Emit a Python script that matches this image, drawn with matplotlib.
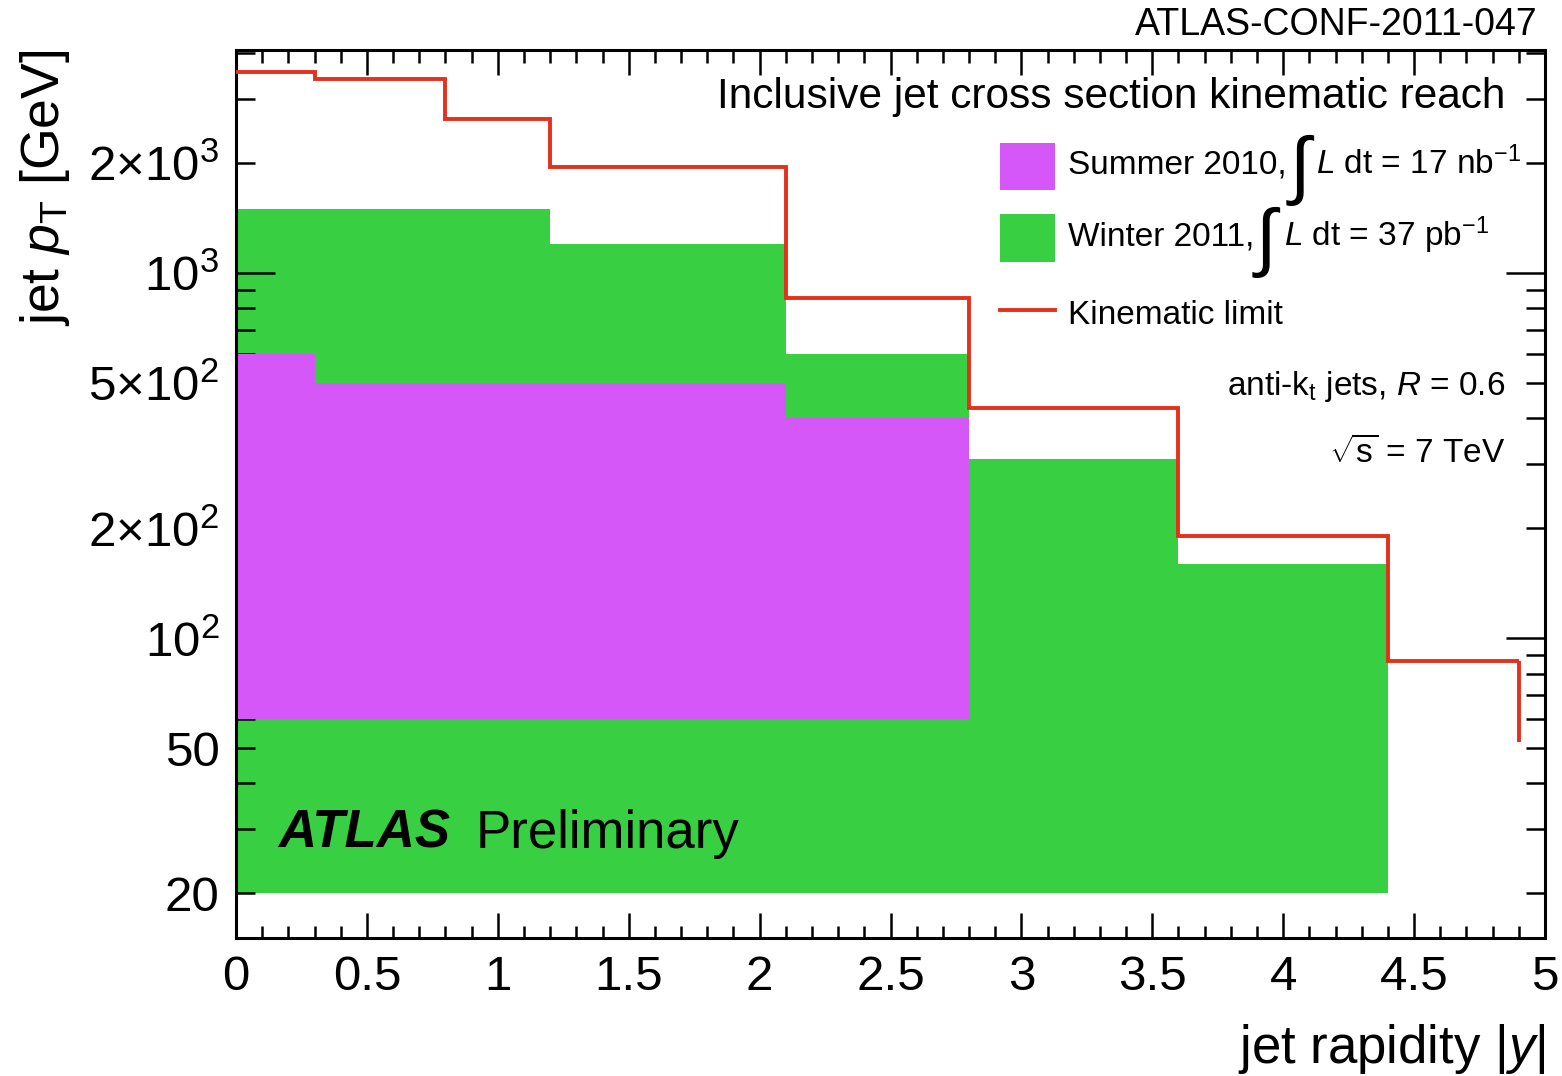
import numpy as np
import matplotlib
matplotlib.use("Agg")
import matplotlib.pyplot as plt
from matplotlib.patches import Rectangle
from matplotlib.lines import Line2D
from matplotlib.ticker import FixedLocator, FuncFormatter

plt.rcParams["font.family"] = ["Liberation Sans", "DejaVu Sans"]
plt.rcParams["mathtext.fontset"] = "custom"
plt.rcParams["mathtext.rm"] = "Liberation Sans"
plt.rcParams["mathtext.it"] = "Liberation Sans:italic"
plt.rcParams["mathtext.bf"] = "Liberation Sans:bold"

# rapidity bins and reach (GeV)
winter_edges = [0.0, 1.2, 2.1, 2.8, 3.6, 4.4]
winter_pt = [1500, 1200, 600, 310, 160]
winter_min = 20

summer_edges = [0.0, 0.3, 2.1, 2.8]
summer_pt = [600, 500, 400]
summer_min = 60

kin_edges = [0.0, 0.3, 0.8, 1.2, 2.1, 2.8, 3.6, 4.4, 4.9]
kin_pt = [3560, 3400, 2640, 1950, 855, 427, 191, 86.5]
kin_end = 52

MAGENTA = "#d557f7"
GREEN = "#38cf42"
RED = "#e4301c"

W, H = 1562, 1076
fig = plt.figure(figsize=(W / 100, H / 100), dpi=100)
ax = fig.add_axes([236 / W, 1 - 938 / H, (1545 - 236) / W, (938 - 50) / H])


def fxy(px, py):
    return px / W, 1 - py / H


ax.stairs(winter_pt, winter_edges, baseline=winter_min, fill=True,
          color=GREEN, linewidth=0, zorder=1)
ax.stairs(summer_pt, summer_edges, baseline=summer_min, fill=True,
          color=MAGENTA, linewidth=0, zorder=2)
ax.stairs(kin_pt, kin_edges, baseline=None, color=RED, linewidth=2.8, zorder=3)
ax.vlines(kin_edges[-1], kin_end, kin_pt[-1], color=RED, linewidth=2.8, zorder=3)

ax.set_yscale("log")
ax.set_xlim(0, 5)
ax.set_ylim(15.1, 4080)

# x ticks
ax.xaxis.set_major_locator(FixedLocator(np.arange(0, 5.01, 0.5)))
ax.xaxis.set_minor_locator(FixedLocator(np.arange(0, 5.01, 0.1)))
ax.xaxis.set_major_formatter(FuncFormatter(lambda v, p: f"{v:g}"))

# y ticks: long at decades, short elsewhere, labels at 2 and 5 too
ax.yaxis.set_major_locator(FixedLocator([100, 1000]))
ax.yaxis.set_major_formatter(FuncFormatter(
    lambda v, p: r"$10^{%d}$" % round(np.log10(v))))
minors = [m * 10 ** d for d in (1, 2, 3) for m in range(2, 10)]
ax.yaxis.set_minor_locator(FixedLocator(minors))
ylabels = {20: "20", 50: "50", 200: r"2$\times$10$^{2}$",
           500: r"5$\times$10$^{2}$", 2000: r"2$\times$10$^{3}$"}
ax.yaxis.set_minor_formatter(FuncFormatter(
    lambda v, p: ylabels.get(int(round(v)), "")))

ax.tick_params(axis="both", which="both", direction="in",
               top=True, right=True, width=1.8, colors="black")
ax.tick_params(axis="x", which="major", length=18, labelsize=35.5, pad=12)
ax.tick_params(axis="x", which="minor", length=9)
ax.tick_params(axis="y", which="major", length=28, labelsize=35.5, pad=12)
ax.tick_params(axis="y", which="minor", length=14, labelsize=35.5, pad=12)
for s in ax.spines.values():
    s.set_linewidth(2.2)

ax.set_xlabel(r"jet rapidity |$y$|", fontsize=38, loc="right", labelpad=16)
ax.set_ylabel(r"jet $p_{\mathrm{T}}$ [GeV]", fontsize=38.5, loc="top", labelpad=12)

# annotations
fig.text(*fxy(1538, 35), "ATLAS-CONF-2011-047", fontsize=27, ha="right", va="baseline")
fig.text(*fxy(1505, 108), "Inclusive jet cross section kinematic reach",
         fontsize=30.5, ha="right", va="baseline")

# legend
for (y0, y1), col in (((143, 190), MAGENTA), ((214, 262), GREEN)):
    x0, yb = fxy(1000, y1)
    fig.patches.append(Rectangle((x0, yb), 55 / W, (y1 - y0) / H,
                                 transform=fig.transFigure, color=col,
                                 linewidth=0))
fig.lines.append(Line2D([1000 / W, 1055 / W], [1 - 310 / H] * 2,
                        transform=fig.transFigure, color=RED, linewidth=2.8))

fs = 24
fig.text(*fxy(1068, 174), "Summer 2010,", fontsize=fs, va="baseline")
fig.text(*fxy(1286, 190), r"$\int$", fontsize=54, va="baseline")
fig.text(*fxy(1316, 174), r"$L$ dt = 17 nb$^{\mathregular{-1}}$", fontsize=fs, va="baseline")
fig.text(*fxy(1068, 246), "Winter 2011,", fontsize=fs, va="baseline")
fig.text(*fxy(1252, 262), r"$\int$", fontsize=54, va="baseline")
fig.text(*fxy(1284, 246), r"$L$ dt = 37 pb$^{\mathregular{-1}}$", fontsize=fs, va="baseline")
fig.text(*fxy(1068, 324), "Kinematic limit", fontsize=fs, va="baseline")

fig.text(*fxy(1505, 395), r"anti-k$_{\mathregular{t}}$ jets, $R$ = 0.6",
         fontsize=fs, ha="right", va="baseline")
fig.text(*fxy(1505, 463), r"$\sqrt{\mathregular{s}}$ = 7 TeV",
         fontsize=fs, ha="right", va="baseline")

fig.text(*fxy(278, 848), "ATLAS", fontsize=38, fontweight="bold",
         fontstyle="italic", va="baseline")
fig.text(*fxy(476, 848), "Preliminary", fontsize=38, va="baseline")

fig.savefig("out.png", dpi=100)
